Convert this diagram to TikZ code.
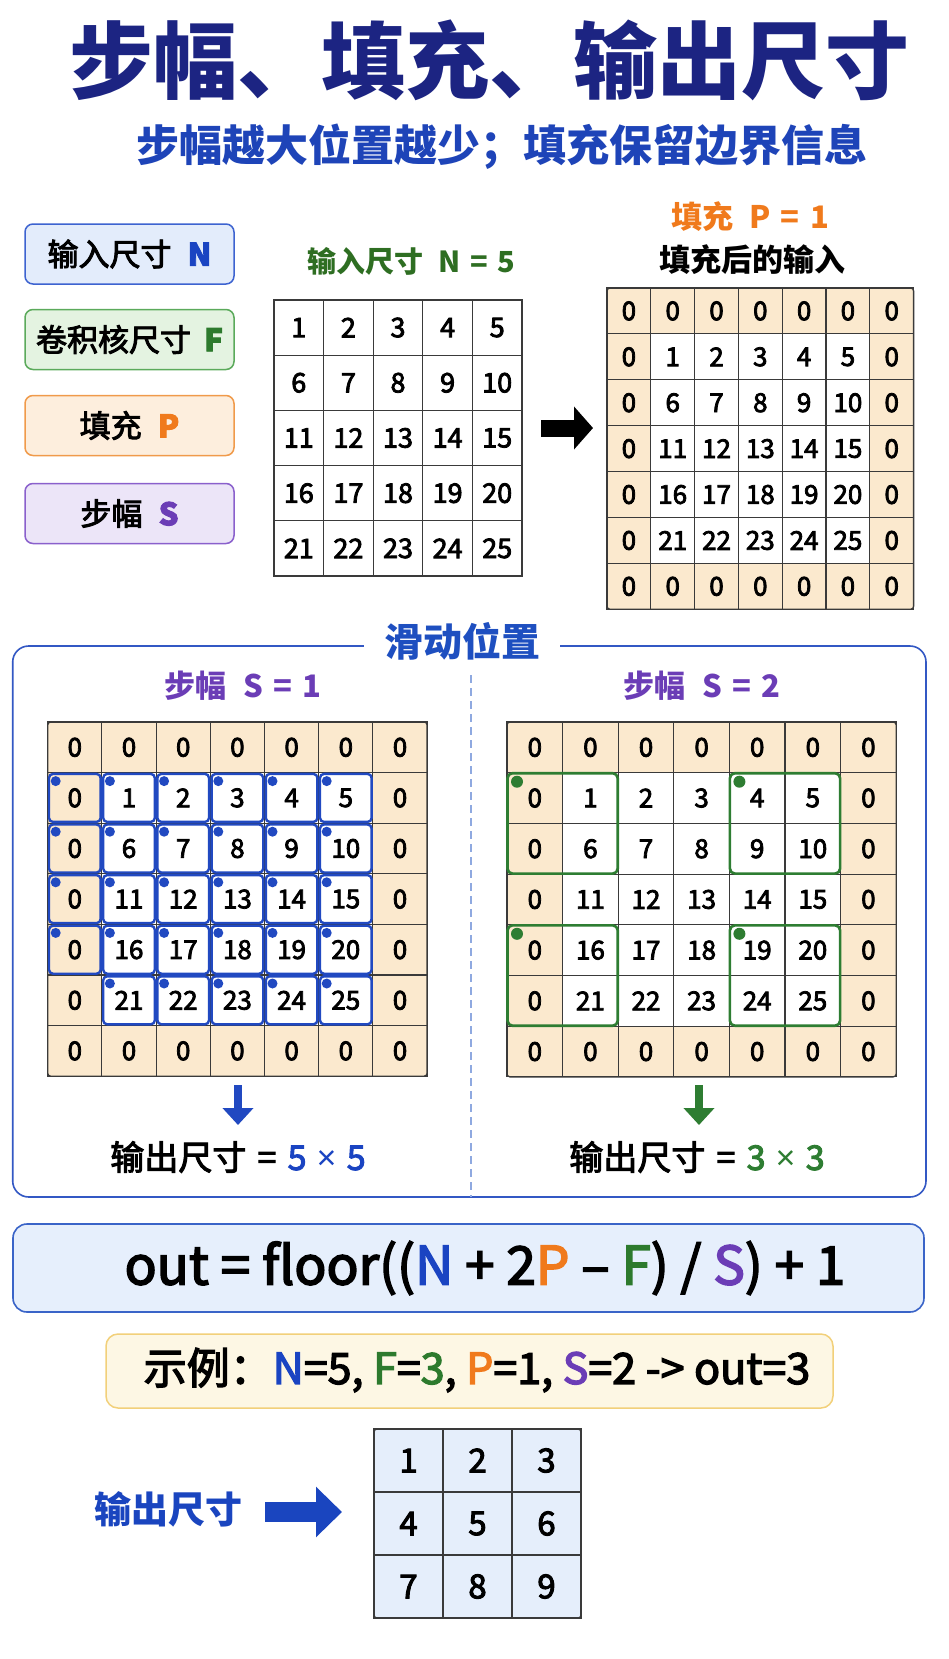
\documentclass[tikz,border=0pt]{standalone}
\usepackage{fontspec}
\setmainfont{Noto Sans CJK SC}
\newfontfamily\medf[FakeBold=3]{Noto Sans CJK SC}
\newfontfamily\latf{Liberation Sans}
\usetikzlibrary{arrows.meta}
\definecolor{cTitle}{HTML}{1C2482}
\definecolor{cSub}{HTML}{1E44B8}
\definecolor{cN}{HTML}{1A44C2}
\definecolor{cF}{HTML}{2D7A2D}
\definecolor{cP}{HTML}{F07A1C}
\definecolor{cS}{HTML}{6B3DB6}
\definecolor{cNin}{HTML}{2E6E22}
\definecolor{cGrid}{HTML}{3A3A3A}
\definecolor{padfill}{HTML}{FBE9CE}
\definecolor{fBlue}{HTML}{E3ECFB}
\definecolor{bBlue}{HTML}{3D63D0}
\definecolor{fGreen}{HTML}{E4F3E1}
\definecolor{bGreen}{HTML}{5BAA5B}
\definecolor{fOrange}{HTML}{FDEEDD}
\definecolor{bOrange}{HTML}{F09A4A}
\definecolor{fPurple}{HTML}{ECE5F8}
\definecolor{bPurple}{HTML}{8A60CC}
\definecolor{cFrame}{HTML}{3358C4}
\definecolor{cFrameT}{HTML}{1E4FC0}
\definecolor{cDash}{HTML}{8FA9E0}
\definecolor{cS1}{HTML}{2149C1}
\definecolor{cS2}{HTML}{2E7D32}
\definecolor{fFormula}{HTML}{E6EFFC}
\definecolor{bFormula}{HTML}{3A64C8}
\definecolor{fEx}{HTML}{FDF7E4}
\definecolor{bEx}{HTML}{F2D07A}
\definecolor{fOut}{HTML}{E5EEFB}
\definecolor{cArrow}{HTML}{1A45BF}
\newcommand\fs[1]{\fontsize{#1}{#1}\selectfont}
\newcommand\eqs{\hspace{0.33em}=\hspace{0.33em}}
\newcommand\timesx{\hspace{0.3em}{\latf ×}\hspace{0.3em}}
\newcommand\padgrid[7]{%
  \foreach \ri in {0,...,6}{\foreach \ci in {0,...,6}{%
    \pgfmathtruncatemacro\inn{(\ri>0)*(\ri<6)*(\ci>0)*(\ci<6)}%
    \pgfmathtruncatemacro\val{\inn*((\ri-1)*5+\ci)}%
    \ifnum\inn=1 \def\fc{white}\else\def\fc{#7}\fi
    \node[cellbox, fill=\fc, minimum width=#3pt, minimum height=#4pt, font=\medf\fs{#6}] (#5-\ri-\ci) at ({#1+#3*(\ci+0.5)},{#2+#4*(\ri+0.5)}) {\val};
  }}%
  \draw[cGrid, line width=1.3pt, rounded corners=3pt] (#1,#2) rectangle ({#1+7*#3},{#2+7*#4});
}
\begin{document}
\begin{tikzpicture}[x=1pt,y=-1pt,
  cellbox/.style={draw=cGrid, line width=1.1pt, inner sep=0pt, outer sep=0pt, text=black},
  legend/.style={draw, line width=1.5pt, rounded corners=8pt, minimum width=209pt, minimum height=60pt, inner sep=0pt, font=\medf\fs{31}},
  lbl/.style={font=\bfseries\fs{#1}, inner sep=0pt},
  mlbl/.style={font=\medf\fs{#1}, inner sep=0pt},
  s1box/.style={draw=cS1, line width=2.4pt, rounded corners=4pt},
  s2box/.style={draw=cS2, line width=2.6pt, rounded corners=5pt},
  dnarrow/.style={line width=8pt, -{Triangle[width=30pt,length=17pt]}},
]
\useasboundingbox (0,0) rectangle (948,1659);
\fill[white] (0,0) rectangle (948,1659);

% title
\node[lbl=84, text=cTitle] (title) at (489,60) {步幅、填充、输出尺寸};
\node[lbl=43, text=cSub] (subtitle) at (502,147) {步幅越大位置越少；填充保留边界信息};

% legend
\node[legend, draw=bBlue, fill=fBlue] (legN) at (129.5,254) {输入尺寸\hspace{0.3em} \textcolor{cN}{\bfseries N}};
\node[legend, draw=bGreen, fill=fGreen] (legF) at (129.5,339.5) {卷积核尺寸\hspace{0.2em} \textcolor{cF}{\bfseries F}};
\node[legend, draw=bOrange, fill=fOrange] (legP) at (129.5,425.5) {填充\hspace{0.3em} \textcolor{cP}{\bfseries P}};
\node[legend, draw=bPurple, fill=fPurple] (legS) at (129.5,513.5) {步幅\hspace{0.3em} \textcolor{cS}{\bfseries S}};

% input grid
\node[lbl=29, text=cNin] (inlabel) at (411,261) {输入尺寸\hspace{0.3em} N\eqs 5};
\foreach \ri in {0,...,4}{\foreach \ci in {0,...,4}{%
  \pgfmathtruncatemacro\val{\ri*5+\ci+1}%
  \node[cellbox, fill=white, minimum width=49.6pt, minimum height=55.2pt, font=\medf\fs{27}] (in-\ri-\ci) at ({274+49.6*(\ci+0.5)},{300+55.2*(\ri+0.5)}) {\val};
}}
\draw[cGrid, line width=1.3pt] (274,300) rectangle (522,576);

% arrow to padded
\coordinate (arrA) at (541,428);
\coordinate (arrB) at (593,428);
\draw[black, line width=17pt, -{Triangle[width=42pt,length=19pt]}] (arrA) -- (arrB);

% padded grid
\node[lbl=31, text=cP] (plabel) at (750,217) {填充\hspace{0.3em} P\eqs 1};
\node[lbl=31, text=black] (padtitle) at (752,260) {填充后的输入};
\padgrid{607}{288}{43.8}{45.9}{P}{26}{padfill}

% frame
\draw[cFrame, line width=1.6pt, rounded corners=16pt] (12.7,646) rectangle (926,1197);
\node[lbl=39, text=cFrameT, fill=white, inner xsep=20pt, inner ysep=2pt] (frametitle) at (462,641) {滑动位置};
\draw[cDash, line width=1.3pt, dash pattern=on 8pt off 5pt] (471,675) -- (471,1197);

% stride 1
\node[lbl=31, text=cS] (s1label) at (243,686) {步幅\hspace{0.3em} S\eqs 1};
\padgrid{47.7}{722}{54.2}{50.6}{L}{26}{padfill}
\foreach \ri in {1,...,5}{\foreach \ci in {0,...,5}{%
  \pgfmathtruncatemacro\skp{(\ri==5)*(\ci==0)}%
  \ifnum\skp=0
    \draw[s1box] ([shift={(1.3pt,-1.3pt)}]L-\ri-\ci.north west) rectangle ([shift={(-1.3pt,1.3pt)}]L-\ri-\ci.south east);
    \fill[cS1] ([shift={(8pt,-8.5pt)}]L-\ri-\ci.north west) circle (5pt);
  \fi
}}
\node[mlbl=34, text=black] (outL) at (238,1157) {输出尺寸\eqs\textcolor{cN}{5\timesx 5}};
\coordinate (dnL1) at (238,1085);
\coordinate (dnL2) at (238,1125);
\draw[dnarrow, cS1] (dnL1) -- (dnL2);

% stride 2
\node[lbl=31, text=cS] (s2label) at (702,686) {步幅\hspace{0.3em} S\eqs 2};
\padgrid{507}{722}{55.6}{50.7}{R}{26}{padfill}
\foreach \ri/\ci in {1/0,1/4,4/0,4/4}{%
  \pgfmathtruncatemacro\rr{\ri+1}%
  \pgfmathtruncatemacro\cc{\ci+1}%
  \draw[s2box] ([shift={(0.5pt,-0.5pt)}]R-\ri-\ci.north west) rectangle ([shift={(-0.5pt,0.5pt)}]R-\rr-\cc.south east);
  \fill[cS2] ([shift={(10pt,-9pt)}]R-\ri-\ci.north west) circle (6pt);
}
\node[mlbl=34, text=black] (outR) at (697,1157) {输出尺寸\eqs\textcolor{cS2}{3\timesx 3}};
\coordinate (dnR1) at (699,1085);
\coordinate (dnR2) at (699,1125);
\draw[dnarrow, cS2] (dnR1) -- (dnR2);

% formula
\node[draw=bFormula, fill=fFormula, line width=1.6pt, rounded corners=14pt, minimum width=911pt, minimum height=88pt] (formulabox) at (468.5,1268) {};
\node[font=\medf\fs{53}, inner sep=0pt] (formula) at (485,1268) {out = floor((\textcolor{cN}{N} + 2\textcolor{cP}{P} – \textcolor{cF}{F}) / \textcolor{cS}{S}) + 1};

% example
\node[draw=bEx, fill=fEx, line width=1.5pt, rounded corners=12pt, minimum width=727pt, minimum height=74pt] (exbox) at (469.5,1371) {};
\node[font=\medf\fs{43}, inner sep=0pt] (example) at (477,1370) {示例：\textcolor{cN}{N}=5, \textcolor{cF}{F}=\textcolor{cF}{3}, \textcolor{cP}{P}=1, \textcolor{cS}{S}=2 -> out=3};

% output
\node[lbl=37, text=cArrow] (outlabel) at (168,1509) {输出尺寸};
\coordinate (oA) at (265,1512);
\coordinate (oB) at (342,1512);
\draw[cArrow, line width=20pt, -{Triangle[width=49pt,length=26pt]}] (oA) -- (oB);
\foreach \ri in {0,1,2}{\foreach \ci in {0,1,2}{%
  \pgfmathtruncatemacro\val{\ri*3+\ci+1}%
  \node[cellbox, fill=fOut, minimum width=69pt, minimum height=63pt, font=\medf\fs{33}] (o-\ri-\ci) at ({374+69*(\ci+0.5)},{1429+63*(\ri+0.5)}) {\val};
}}
\draw[cGrid, line width=1.3pt, rounded corners=3pt] (374,1429) rectangle (581,1618);
\end{tikzpicture}
\end{document}
